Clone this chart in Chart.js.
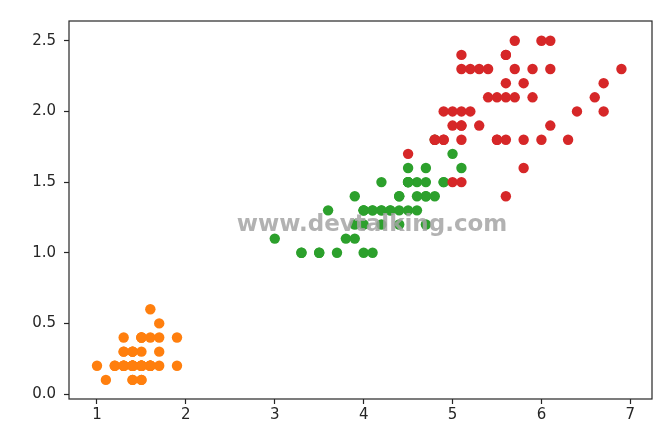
<!DOCTYPE html>
<html>
<head>
<meta charset="utf-8">
<script src="https://cdn.jsdelivr.net/npm/chart.js@4"></script>
<style>
  html, body { margin: 0; padding: 0; background: #fff; }
  #wrap { width: 672px; height: 448px; }
</style>
</head>
<body>
<div id="wrap"><canvas id="chart"></canvas></div>
<script>
// iris petal length / petal width, one array pair per species
const setosaLength = [1.4,1.4,1.3,1.5,1.4,1.7,1.4,1.5,1.4,1.5,1.5,1.6,1.4,1.1,1.2,1.5,1.3,1.4,1.7,1.5,1.7,1.5,1.0,1.7,1.9,1.6,1.6,1.5,1.4,1.6,1.6,1.5,1.5,1.4,1.5,1.2,1.3,1.4,1.3,1.5,1.3,1.3,1.3,1.6,1.9,1.4,1.6,1.4,1.5,1.4];
const setosaWidth  = [0.2,0.2,0.2,0.2,0.2,0.4,0.3,0.2,0.2,0.1,0.2,0.2,0.1,0.1,0.2,0.4,0.4,0.3,0.3,0.3,0.2,0.4,0.2,0.5,0.2,0.2,0.4,0.2,0.2,0.2,0.2,0.4,0.1,0.2,0.2,0.2,0.2,0.1,0.2,0.2,0.3,0.3,0.2,0.6,0.4,0.3,0.2,0.2,0.2,0.2];

const versicolorLength = [4.7,4.5,4.9,4.0,4.6,4.5,4.7,3.3,4.6,3.9,3.5,4.2,4.0,4.7,3.6,4.4,4.5,4.1,4.5,3.9,4.8,4.0,4.9,4.7,4.3,4.4,4.8,5.0,4.5,3.5,3.8,3.7,3.9,5.1,4.5,4.5,4.7,4.4,4.1,4.0,4.4,4.6,4.0,3.3,4.2,4.2,4.2,4.3,3.0,4.1];
const versicolorWidth  = [1.4,1.5,1.5,1.3,1.5,1.3,1.6,1.0,1.3,1.4,1.0,1.5,1.0,1.4,1.3,1.4,1.5,1.0,1.5,1.1,1.8,1.3,1.5,1.2,1.3,1.4,1.4,1.7,1.5,1.0,1.1,1.0,1.2,1.6,1.5,1.6,1.5,1.3,1.3,1.3,1.2,1.4,1.2,1.0,1.3,1.2,1.3,1.3,1.1,1.3];

const virginicaLength = [6.0,5.1,5.9,5.6,5.8,6.6,4.5,6.3,5.8,6.1,5.1,5.3,5.5,5.0,5.1,5.3,5.5,6.7,6.9,5.0,5.7,4.9,6.7,4.9,5.7,6.0,4.8,4.9,5.6,5.8,6.1,6.4,5.6,5.1,5.6,6.1,5.6,5.5,4.8,5.4,5.6,5.1,5.1,5.9,5.7,5.2,5.0,5.2,5.4,5.1];
const virginicaWidth  = [2.5,1.9,2.1,1.8,2.2,2.1,1.7,1.8,1.8,2.5,2.0,1.9,2.1,2.0,2.4,2.3,1.8,2.2,2.3,1.5,2.3,2.0,2.0,1.8,2.1,1.8,1.8,1.8,2.1,1.6,1.9,2.0,2.2,1.5,1.4,2.3,2.4,1.8,1.8,2.1,2.4,2.3,1.9,2.3,2.5,2.3,1.9,2.0,2.3,1.8];

const xTicks = [1, 2, 3, 4, 5, 6, 7];
const yTicks = [0.0, 0.5, 1.0, 1.5, 2.0, 2.5];

const ORANGE = "#ff7f0e";
const GREEN = "#2ca02c";
const RED = "#d62728";
const INK = "#262626";
const TICK_FONT = { family: "'DejaVu Sans', sans-serif", size: 15 };

function toPoints(xs, ys) {
  return xs.map((x, i) => ({ x: x, y: ys[i] }));
}

// later species drawn on top, like successive plt.scatter calls
function scatterSet(label, xs, ys, color, order) {
  return {
    label: label,
    data: toPoints(xs, ys),
    backgroundColor: color,
    borderColor: color,
    borderWidth: 0,
    pointRadius: 5.2,
    pointHoverRadius: 5.2,
    order: order,
  };
}

// axes box like matplotlib spines
const frame = {
  id: "frame",
  afterDatasetsDraw(chart) {
    const { ctx, chartArea: a } = chart;
    ctx.save();
    ctx.strokeStyle = INK;
    ctx.lineWidth = 1.2;
    ctx.strokeRect(a.left, a.top, a.right - a.left, a.bottom - a.top);
    ctx.restore();
  },
};

const watermark = {
  id: "watermark",
  afterDraw(chart) {
    const ctx = chart.ctx;
    ctx.save();
    ctx.font = "bold 23px 'DejaVu Sans', sans-serif";
    ctx.fillStyle = "rgba(165,165,165,0.85)";
    ctx.textAlign = "center";
    ctx.textBaseline = "alphabetic";
    ctx.fillText("www.devtalking.com", 372, 231);
    ctx.restore();
  },
};

new Chart(document.getElementById("chart"), {
  type: "scatter",
  data: {
    datasets: [
      scatterSet("setosa", setosaLength, setosaWidth, ORANGE, 3),
      scatterSet("versicolor", versicolorLength, versicolorWidth, GREEN, 2),
      scatterSet("virginica", virginicaLength, virginicaWidth, RED, 1),
    ],
  },
  options: {
    responsive: true,
    maintainAspectRatio: false,
    animation: false,
    layout: { padding: { left: 0, right: 20, top: 21, bottom: 0 } },
    plugins: {
      legend: { display: false },
      tooltip: { enabled: false },
    },
    scales: {
      x: {
        type: "linear",
        min: 0.685,
        max: 7.244,
        afterBuildTicks: (scale) => {
          scale.ticks = xTicks.map((v) => ({ value: v }));
        },
        afterFit: (scale) => {
          scale.height = 49;
        },
        grid: {
          display: true,
          drawOnChartArea: false,
          tickLength: 5,
          tickColor: INK,
          tickWidth: 1.2,
        },
        border: { display: false },
        ticks: {
          font: TICK_FONT,
          color: INK,
          padding: 2,
          maxRotation: 0,
          callback: (v) => String(v),
        },
      },
      y: {
        type: "linear",
        min: -0.035,
        max: 2.64,
        afterBuildTicks: (scale) => {
          scale.ticks = yTicks.map((v) => ({ value: v }));
        },
        afterFit: (scale) => {
          scale.width = 69;
        },
        grid: {
          display: true,
          drawOnChartArea: false,
          tickLength: 5,
          tickColor: INK,
          tickWidth: 1.2,
        },
        border: { display: false },
        ticks: {
          font: TICK_FONT,
          color: INK,
          padding: 8,
          callback: (v) => v.toFixed(1),
        },
      },
    },
  },
  plugins: [frame, watermark],
});
</script>
</body>
</html>
